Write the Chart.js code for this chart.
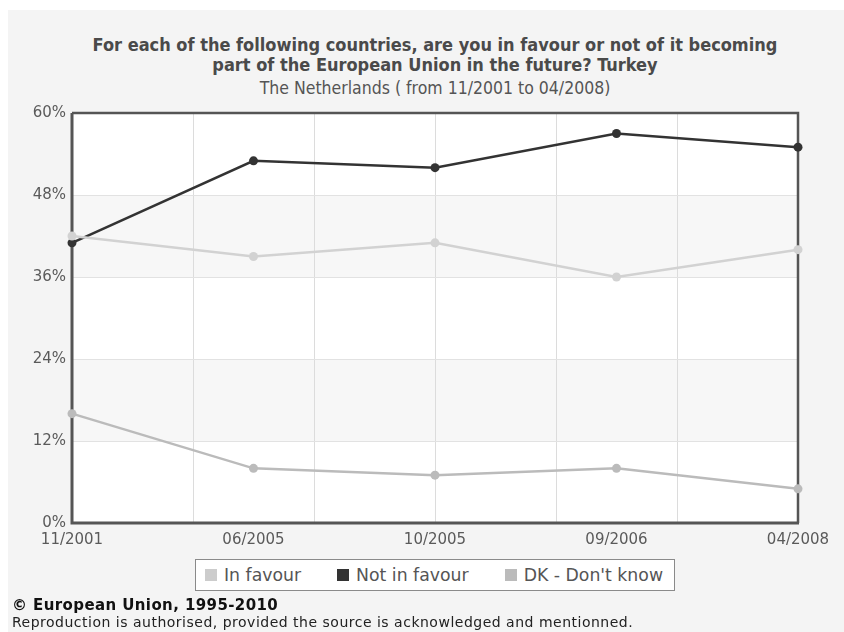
<!DOCTYPE html>
<html>
<head>
<meta charset="utf-8">
<script src="https://cdn.jsdelivr.net/npm/chart.js@4/dist/chart.umd.min.js"></script>
<style>
html, body { margin: 0; padding: 0; background: #fff; }
#wrap { position: relative; width: 844px; height: 632px; overflow: hidden; background: #fff; }
#panel { position: absolute; left: 8px; top: 10px; right: 0; bottom: 0; background: #f4f4f4; }
#c { position: absolute; left: 0; top: 0; }
#title { position: absolute; left: 0; top: 35px; width: 870px; text-align: center;
  font-family: "DejaVu Sans Condensed", "DejaVu Sans", sans-serif; font-weight: bold;
  font-size: 18px; line-height: 20px; color: #4a4a4a; }
#subtitle { position: absolute; left: 0; top: 78px; width: 870px; text-align: center;
  font-family: "DejaVu Sans Condensed", "DejaVu Sans", sans-serif;
  font-size: 17.5px; line-height: 20px; color: #555; }
#legend { position: absolute; left: 195px; top: 559px; width: 469px; height: 30px;
  border: 1px solid #8a8a8a; background: #fff; display: flex; align-items: center;
  justify-content: flex-start; padding-left: 9px; box-sizing: content-box;
  font-family: "DejaVu Sans", sans-serif; font-size: 17.3px; color: #555; }
#legend .item { display: flex; align-items: center; margin-right: 36px; white-space: nowrap; }
#legend .item:last-child { margin-right: 0; }
#legend .sw { width: 12px; height: 12px; margin-right: 7px; }
#foot1 { position: absolute; left: 12px; top: 597px; font-family: "DejaVu Sans", sans-serif;
  font-weight: bold; font-size: 15px; letter-spacing: 0.4px; line-height: 17px; color: #111; }
#foot2 { position: absolute; left: 12px; top: 614px; font-family: "DejaVu Sans", sans-serif;
  font-size: 14px; letter-spacing: 0.5px; line-height: 16px; color: #222; }
</style>
</head>
<body>
<div id="wrap">
  <div id="panel"></div>
  <div id="title">For each of the following countries, are you in favour or not of it becoming<br>part of the European Union in the future? Turkey</div>
  <div id="subtitle">The Netherlands ( from 11/2001 to 04/2008)</div>
  <canvas id="c" width="844" height="632"></canvas>
  <div id="legend"></div>
  <div id="foot1">© European Union, 1995-2010</div>
  <div id="foot2">Reproduction is authorised, provided the source is acknowledged and mentionned.</div>
</div>
<script>
// ---- data ----
const categories = ['11/2001', '06/2005', '10/2005', '09/2006', '04/2008'];
const inFavour = [42, 39, 41, 36, 40];
const notInFavour = [41, 53, 52, 57, 55];
const dontKnow = [16, 8, 7, 8, 5];
const yTicks = [0, 12, 24, 36, 48, 60];
const seriesNames = ['In favour', 'Not in favour', "DK - Don't know"];

const bandsPlugin = {
  id: 'bands',
  beforeDraw(chart) {
    const { ctx, chartArea: a, scales: { y } } = chart;
    ctx.save();
    ctx.fillStyle = '#ffffff';
    ctx.fillRect(a.left, a.top, a.right - a.left, a.bottom - a.top);
    ctx.fillStyle = '#f7f7f7';
    for (let i = 1; i + 1 < yTicks.length; i += 2) {
      const y1 = y.getPixelForValue(yTicks[i + 1]);
      const y0 = y.getPixelForValue(yTicks[i]);
      ctx.fillRect(a.left, y1, a.right - a.left, y0 - y1);
    }
    ctx.restore();
  },
  beforeDatasetsDraw(chart) {
    const { ctx, chartArea: a } = chart;
    ctx.save();
    ctx.strokeStyle = '#555';
    ctx.lineWidth = 2.5;
    ctx.beginPath();
    ctx.moveTo(a.left, a.top); ctx.lineTo(a.right, a.top); ctx.lineTo(a.right, a.bottom);
    ctx.stroke();
    ctx.lineWidth = 3;
    ctx.beginPath();
    ctx.moveTo(a.left, a.top); ctx.lineTo(a.left, a.bottom); ctx.lineTo(a.right + 1, a.bottom);
    ctx.stroke();
    ctx.restore();
  }
};

function ds(label, data, color, legendColor) {
  return {
    label, data, borderColor: color, backgroundColor: color, legendColor,
    borderWidth: 2.5, pointRadius: 4.5, pointHoverRadius: 4.5,
    pointBackgroundColor: color, pointBorderColor: color, pointBorderWidth: 0,
    tension: 0, clip: false, xAxisID: 'x', yAxisID: 'y'
  };
}

const chart = new Chart(document.getElementById('c'), {
  type: 'line',
  data: {
    labels: categories,
    datasets: [
      ds(seriesNames[0], inFavour, '#d2d2d2', '#cccccc'),
      ds(seriesNames[1], notInFavour, '#333333', '#333333'),
      ds(seriesNames[2], dontKnow, '#bbbbbb', '#bbbbbb')
    ]
  },
  options: {
    responsive: false,
    animation: false,
    events: [],
    layout: { padding: { left: 12, top: 113, right: 46, bottom: 79 } },
    plugins: { legend: { display: false }, title: { display: false }, tooltip: { enabled: false } },
    scales: {
      x: {
        type: 'category', position: 'bottom', offset: false,
        grid: { display: false, drawTicks: false },
        border: { display: false },
        ticks: { color: '#5a5a5a', font: { family: 'DejaVu Sans', size: 15 }, padding: 8,
                 maxRotation: 0, autoSkip: false },
        afterFit(s) { s.height = 30; }
      },
      xg: {
        type: 'linear', position: 'top', min: 0, max: 6,
        ticks: { display: false, stepSize: 1 },
        grid: { color: '#dcdcdc', lineWidth: 1, drawTicks: false },
        border: { display: false },
        afterFit(s) { s.height = 0; }
      },
      y: {
        min: yTicks[0], max: yTicks[yTicks.length - 1],
        afterBuildTicks(s) { s.ticks = yTicks.map(v => ({ value: v })); },
        ticks: { color: '#5a5a5a', font: { family: 'DejaVu Sans', size: 15 }, padding: 6,
                 callback: v => v + '%' },
        grid: { color: '#e2e2e2', lineWidth: 1, drawTicks: false },
        border: { display: false },
        afterFit(s) { s.width = 60; }
      }
    }
  },
  plugins: [bandsPlugin]
});

// legend built from the chart's datasets
const legendEl = document.getElementById('legend');
chart.data.datasets.forEach(d => {
  const item = document.createElement('div');
  item.className = 'item';
  const sw = document.createElement('div');
  sw.className = 'sw';
  sw.style.background = d.legendColor;
  const tx = document.createElement('span');
  tx.textContent = d.label;
  item.appendChild(sw); item.appendChild(tx);
  legendEl.appendChild(item);
});
</script>
</body>
</html>
